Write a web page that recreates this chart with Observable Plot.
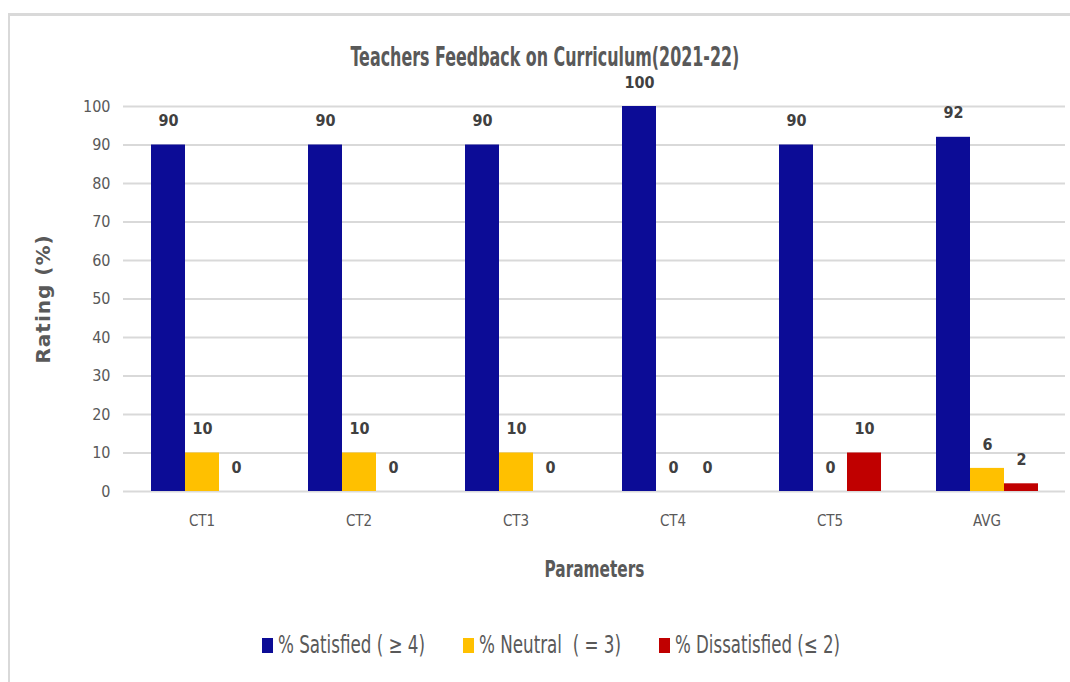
<!DOCTYPE html>
<html>
<head>
<meta charset="utf-8">
<script src="https://cdn.jsdelivr.net/npm/d3@7"></script>
<script src="https://cdn.jsdelivr.net/npm/@observablehq/plot@0.6"></script>
<style>
  html, body { margin: 0; padding: 0; background: #fff; }
  #wrap { position: relative; width: 1070px; height: 682px; overflow: hidden; }
  #frame { position: absolute; left: 8px; top: 13px; width: 1100px; height: 700px;
           border-left: 2px solid #d9d9d9; border-top: 3px solid #d9d9d9; }
  #chart { position: absolute; left: 0; top: 0; }
  .cond { font-family: "DejaVu Sans Condensed", "Open Sans", sans-serif; }
  #title { position: absolute; left: 545px; top: 42px; white-space: nowrap;
           font-size: 26px; font-weight: bold; color: #595959;
           transform: translateX(-50%) scaleX(0.68); transform-origin: center; }
  #legend { position: absolute; top: 631px; left: 262px; font-size: 24px; color: #595959;
            display: flex; align-items: center; white-space: pre; }
  .sw { display: inline-block; width: 11px; height: 15px; margin-right: 5px; }
  .item { display: flex; align-items: center; }
  .lt { display: inline-block; transform-origin: left center; }
</style>
</head>
<body>
<div id="wrap">
  <div id="frame"></div>
  <div id="chart"></div>
  <div id="title" class="cond">Teachers Feedback on Curriculum(2021-22)</div>
  <div id="legend" class="cond"></div>
</div>
<script>
const categories = ["CT1", "CT2", "CT3", "CT4", "CT5", "AVG"];
const seriesNames = ["% Satisfied ( \u2265 4)", "% Neutral  ( = 3)", "% Dissatisfied (\u2264 2)"];
const seriesColors = ["#0c0c96", "#ffc000", "#c00000"];
const satisfied = [90, 90, 90, 100, 90, 92];
const neutral = [10, 10, 10, 0, 0, 6];
const dissatisfied = [0, 0, 0, 0, 10, 2];
const yTicks = [0, 10, 20, 30, 40, 50, 60, 70, 80, 90, 100];

const seriesValues = [satisfied, neutral, dissatisfied];
const data = [];
categories.forEach((c, i) => {
  seriesNames.forEach((s, j) => data.push({cat: c, series: s, value: seriesValues[j][i]}));
});

const condFont = '"DejaVu Sans Condensed", "Open Sans", sans-serif';

const chart = Plot.plot({
  width: 1070,
  height: 600,
  marginLeft: 123,
  marginRight: 5,
  marginTop: 106,
  marginBottom: 109,
  style: {fontFamily: condFont, background: "transparent", overflow: "visible"},
  fx: {domain: categories, padding: 0},
  x: {domain: seriesNames, paddingInner: 0, paddingOuter: 0.743, axis: null},
  y: {domain: [0, 100]},
  color: {domain: seriesNames, range: seriesColors},
  marks: [
    Plot.gridY(yTicks, {stroke: "#d9d9d9", strokeOpacity: 1, strokeWidth: 2}),
    Plot.axisY(yTicks, {tickSize: 0, tickPadding: 13, fontSize: 16, color: "#595959",
      label: "Rating (%)", labelAnchor: "center", labelArrow: "none", labelOffset: 88}),
    Plot.axisFx({anchor: "bottom", tickSize: 0, tickPadding: 24, fontSize: 15, color: "#595959",
      label: "Parameters", labelAnchor: "center", labelArrow: "none", labelOffset: 85}),
    Plot.barY(data, {fx: "cat", x: "series", y: "value", fill: "series"}),
    Plot.text(data, {fx: "cat", x: "series", y: "value", text: d => String(d.value),
      dy: -24, fontSize: 16, fontWeight: "bold", fill: "#404040"})
  ]
});
document.getElementById("chart").appendChild(chart);

// style axis labels
d3.select(chart).selectAll("g[aria-label='y-axis label'] text")
  .style("font-family", '"DejaVu Sans", Verdana, sans-serif')
  .style("font-weight", "bold").style("font-size", "20px").style("letter-spacing", "1px")
  .attr("fill", "#595959");
d3.select(chart).selectAll("g[aria-label='fx-axis label'] text")
  .style("font-weight", "bold").style("font-size", "23px").attr("fill", "#595959")
  .attr("textLength", 100).attr("lengthAdjust", "spacingAndGlyphs");

const legend = document.getElementById("legend");
const legendWidths = [147, 142, 165];
const legendGaps = [38, 38, 0];
seriesNames.forEach((s, j) => {
  const it = document.createElement("span");
  it.className = "item";
  it.style.marginRight = legendGaps[j] + "px";
  it.innerHTML = `<span class="sw" style="background:${seriesColors[j]}"></span>`;
  const t = document.createElement("span");
  t.className = "lt";
  t.textContent = s;
  it.appendChild(t);
  legend.appendChild(it);
  const w = t.getBoundingClientRect().width;
  const k = legendWidths[j] / w;
  t.style.transform = `scaleX(${k})`;
  t.style.marginRight = (legendWidths[j] - w) + "px";
});
</script>
</body>
</html>
